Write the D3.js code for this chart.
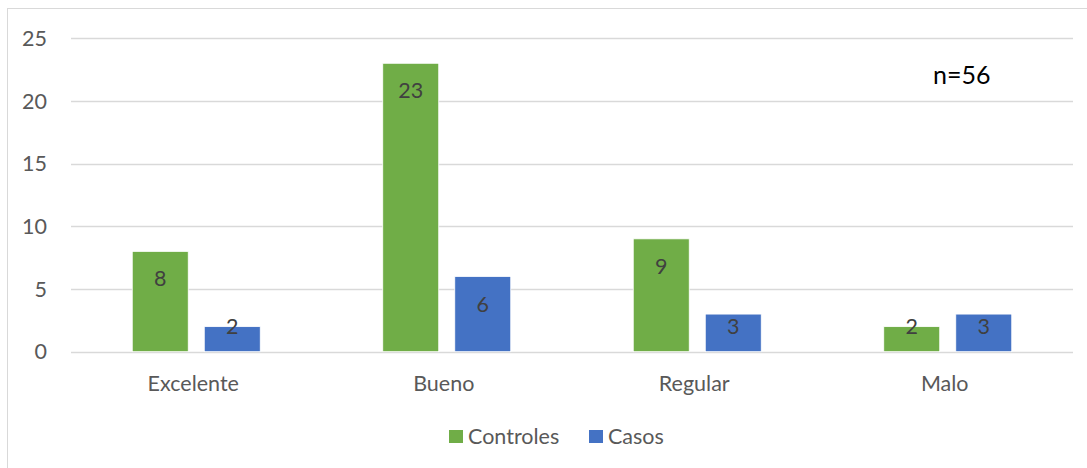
<!DOCTYPE html>
<html><head><meta charset="utf-8">
<script src="https://cdn.jsdelivr.net/npm/d3@7"></script>
<style>body{margin:0;background:#fff}svg{display:block;font-family:Lato,"Open Sans",sans-serif}</style>
</head><body><svg id="c" width="1087" height="468"></svg>
<script>
const categories = ["Excelente","Bueno","Regular","Malo"];
const seriesNames = ["Controles","Casos"];
const controles = [8,23,9,2];
const casos = [2,6,3,3];
const yTicks = [0,5,10,15,20,25];
const colors = ["#70AD47","#4472C4"];
const note = "n=56";

const svg = d3.select("#c");
svg.append("rect").attr("x",7.5).attr("y",8.5).attr("width",1200).attr("height",600)
  .attr("fill","none").attr("stroke","#d9d9d9");

const x0 = d3.scaleBand().domain(categories).range([71,1073]);
const y = d3.scaleLinear().domain([0,25]).range([351.7,38.2]);
const bw = x0.bandwidth()*0.2235, gap = x0.bandwidth()*0.064;

svg.append("g").selectAll("line").data(yTicks).join("line")
  .attr("x1",71).attr("x2",1073).attr("y1",d=>Math.round(y(d))+0.5).attr("y2",d=>Math.round(y(d))+0.5)
  .attr("stroke","#d9d9d9").attr("stroke-width",1.3);

svg.append("g").selectAll("text").data(yTicks).join("text")
  .attr("x",47).attr("y",d=>y(d)).attr("dy","0.36em").attr("text-anchor","end")
  .attr("fill","#595959").attr("font-size",21.5).text(d=>d);

const data = [];
categories.forEach((c,i)=>{
  [controles[i],casos[i]].forEach((v,s)=>data.push({c,s,v}));
});
const bx = d=> x0(d.c)+x0.bandwidth()/2 + (d.s===0 ? -gap/2-bw : gap/2);

svg.append("g").selectAll("rect").data(data).join("rect")
  .attr("x",bx).attr("width",bw)
  .attr("y",d=>y(d.v)).attr("height",d=>y(0)-y(d.v))
  .attr("fill",d=>colors[d.s]).attr("stroke","#fff").attr("stroke-width",0.8);

svg.append("g").selectAll("text").data(data).join("text")
  .attr("x",d=>bx(d)+bw/2)
  .attr("y",d=>y(d.v)+Math.min(27.3,(y(0)-y(d.v))-25))
  .attr("dy","0.36em").attr("text-anchor","middle")
  .attr("fill","#404040").attr("font-size",21.5).text(d=>d.v);

svg.append("g").selectAll("text").data(categories).join("text")
  .attr("x",d=>x0(d)+x0.bandwidth()/2-3).attr("y",383).attr("dy","0.36em")
  .attr("text-anchor","middle").attr("fill","#595959").attr("font-size",21.5).text(d=>d);

const leg = [{n:seriesNames[0],x:449,c:colors[0]},{n:seriesNames[1],x:589,c:colors[1]}];
const lg = svg.append("g");
leg.forEach(l=>{
  lg.append("rect").attr("x",l.x).attr("y",430).attr("width",14).attr("height",13).attr("fill",l.c);
  lg.append("text").attr("x",l.x+19).attr("y",436.5).attr("dy","0.36em").attr("fill","#595959")
    .attr("font-size",21.5).text(l.n);
});

svg.append("text").attr("x",933).attr("y",75).attr("dy","0.36em").attr("fill","#000")
  .attr("font-size",25).text(note);
</script></body></html>
